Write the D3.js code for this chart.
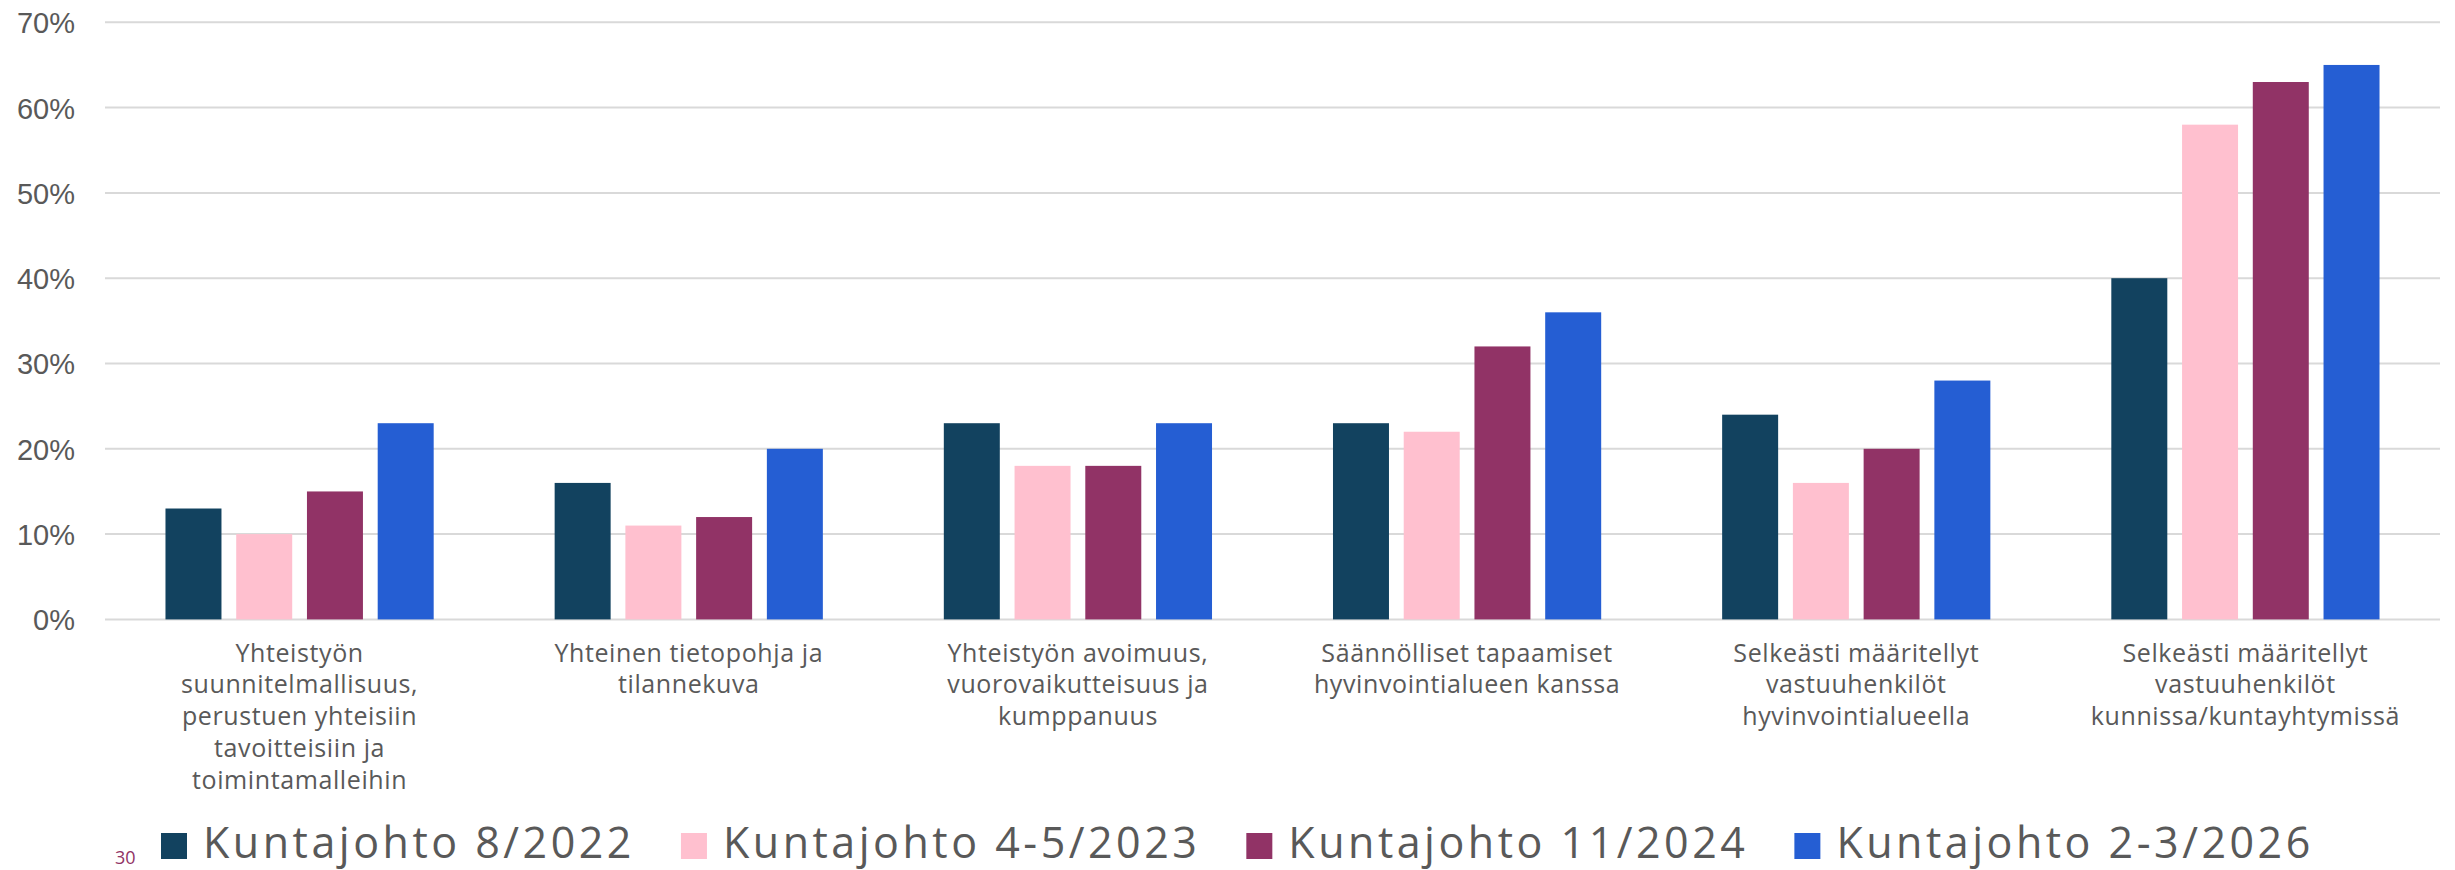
<!DOCTYPE html>
<html><head><meta charset="utf-8">
<script src="https://cdn.jsdelivr.net/npm/d3@7"></script>
<style>html,body{margin:0;padding:0;background:#fff;overflow:hidden}</style>
</head><body>
<svg id="chart" width="2455" height="870"></svg>
<script>
const categories = [
  "Yhteistyön\nsuunnitelmallisuus,\nperustuen yhteisiin\ntavoitteisiin ja\ntoimintamalleihin",
  "Yhteinen tietopohja ja\ntilannekuva",
  "Yhteistyön avoimuus,\nvuorovaikutteisuus ja\nkumppanuus",
  "Säännölliset tapaamiset\nhyvinvointialueen kanssa",
  "Selkeästi määritellyt\nvastuuhenkilöt\nhyvinvointialueella",
  "Selkeästi määritellyt\nvastuuhenkilöt\nkunnissa/kuntayhtymissä"
];
const seriesNames = ["Kuntajohto 8/2022", "Kuntajohto 4-5/2023", "Kuntajohto 11/2024", "Kuntajohto 2-3/2026"];
const seriesColors = ["#12425F", "#FFC0CF", "#913366", "#255ED3"];
const s2022 = [13, 16, 23, 23, 24, 40];
const s2023 = [10, 11, 18, 22, 16, 58];
const s2024 = [15, 12, 18, 32, 20, 63];
const s2026 = [23, 20, 23, 36, 28, 65];
const yTicks = [0, 10, 20, 30, 40, 50, 60, 70];
const pageNumber = "30";

(function () {
const values = [s2022, s2023, s2024, s2026];
const svg = d3.select("#chart");
const mLeft = 105, mRight = 2440, mTop = 22.3, mBottom = 619.4;

const x0 = d3.scaleBand().domain(categories.map((d, i) => i)).range([mLeft, mRight]).padding(0);
const x1 = d3.scaleBand().domain(seriesNames.map((d, i) => i)).range([0, x0.bandwidth()])
  .paddingInner(0.2085).paddingOuter(0.855);
const y = d3.scaleLinear().domain([0, 70]).range([mBottom, mTop]);

svg.append("g").selectAll("line").data(yTicks).join("line")
  .attr("x1", mLeft).attr("x2", mRight)
  .attr("y1", d => y(d)).attr("y2", d => y(d))
  .attr("stroke", "#d9d9d9").attr("stroke-width", 2);

const yAxis = d3.axisLeft(y).tickValues(yTicks).tickFormat(d => d + "%").tickSize(0).tickPadding(0);
const yg = svg.append("g").attr("transform", "translate(75,0)").call(yAxis);
yg.select(".domain").remove();
yg.selectAll("text").attr("font-family", "'Liberation Sans', Arial, sans-serif")
  .attr("font-size", 29).attr("fill", "#595959").attr("dy", "0.36em");

const groups = svg.append("g").selectAll("g").data(categories).join("g")
  .attr("transform", (d, i) => `translate(${x0(i)},0)`);
groups.selectAll("rect").data((d, i) => values.map((s, j) => ({ j, v: s[i] }))).join("rect")
  .attr("x", d => x1(d.j)).attr("width", x1.bandwidth())
  .attr("y", d => y(d.v)).attr("height", d => y(0) - y(d.v))
  .attr("fill", d => seriesColors[d.j]);

const lab = svg.append("g").selectAll("text").data(categories).join("text")
  .attr("x", (d, i) => x0(i) + x0.bandwidth() / 2)
  .attr("y", 661.7)
  .attr("text-anchor", "middle")
  .attr("font-family", "'Open Sans', 'Noto Sans', sans-serif")
  .attr("font-size", 25).attr("letter-spacing", "0.6px").attr("fill", "#595959");
lab.selectAll("tspan").data(d => d.split("\n")).join("tspan")
  .attr("x", function () { return this.parentNode.getAttribute("x"); })
  .attr("dy", (d, i) => i === 0 ? 0 : 31.7)
  .text(d => d);

const leg = svg.append("g");
let lx = 161;
seriesNames.forEach((name, i) => {
  leg.append("rect").attr("x", lx).attr("y", 833).attr("width", 26).attr("height", 26).attr("fill", seriesColors[i]);
  const t = leg.append("text").attr("x", lx + 42).attr("y", 857.5)
    .attr("font-family", "'Open Sans', 'Noto Sans', sans-serif")
    .attr("font-size", 43).attr("letter-spacing", "3.5px").attr("fill", "#595959").text(name);
  lx = lx + 42 + t.node().getComputedTextLength() + 46;
});

svg.append("text").attr("x", 115).attr("y", 864).attr("font-family", "'Open Sans', sans-serif")
  .attr("font-size", 18).attr("fill", "#913366").text(pageNumber);
})();
</script>
</body></html>
